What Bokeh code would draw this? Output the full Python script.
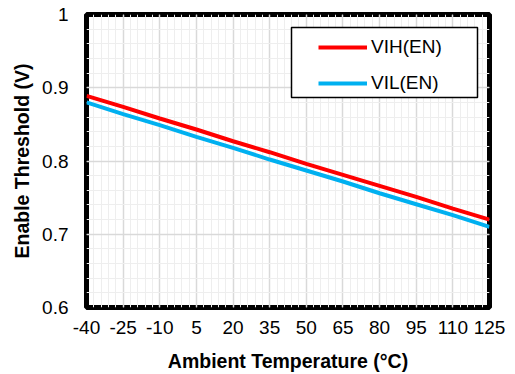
from bokeh.plotting import figure
from bokeh.models import FixedTicker, Legend, LegendItem, Range1d, BoxAnnotation
from bokeh.embed import file_html
from bokeh.resources import INLINE

temps = [-40, -25, -10, 5, 20, 35, 50, 65, 80, 95, 110, 125]
vih_en = [0.889, 0.874, 0.858, 0.843, 0.827, 0.812, 0.796, 0.781, 0.766, 0.751, 0.735, 0.720]
vil_en = [0.880, 0.864, 0.849, 0.833, 0.818, 0.802, 0.787, 0.772, 0.756, 0.741, 0.726, 0.710]
x_ticks = [-40, -25, -10, 5, 20, 35, 50, 65, 80, 95, 110, 125]
y_ticks = [0.6, 0.7, 0.8, 0.9, 1.0]
y_tick_labels = ["0.6", "0.7", "0.8", "0.9", "1"]
x_minor = [-40 + 3 * i for i in range(56)]
y_minor = [round(0.6 + 0.02 * i, 2) for i in range(21)]

FONT = "Liberation Sans"

p = figure(width=515, height=374, output_backend="svg", toolbar_location=None,
           x_range=Range1d(-40, 125), y_range=Range1d(0.6, 1.0),
           min_border_left=86, min_border_right=26, min_border_top=14, min_border_bottom=67)
p.background_fill_color = "white"
p.border_fill_color = "white"
p.outline_line_color = "black"
p.outline_line_width = 5

p.xaxis.ticker = FixedTicker(ticks=x_ticks, minor_ticks=x_minor)
p.yaxis.ticker = FixedTicker(ticks=y_ticks, minor_ticks=y_minor)
p.xaxis.major_label_overrides = {t: str(t) for t in x_ticks}
p.yaxis.major_label_overrides = dict(zip(y_ticks, y_tick_labels))

for ax in (p.xaxis[0], p.yaxis[0]):
    ax.axis_line_color = None
    ax.major_tick_line_color = None
    ax.minor_tick_line_color = None
    ax.major_tick_out = 0
    ax.major_tick_in = 0
    ax.minor_tick_out = 0
    ax.major_label_text_font = FONT
    ax.major_label_text_font_size = "19px"
    ax.major_label_text_color = "black"
    ax.axis_label_text_font = FONT
    ax.axis_label_text_font_size = "19.5px"
    ax.axis_label_text_font_style = "bold"
    ax.axis_label_text_color = "black"

p.xaxis.axis_label = "Ambient Temperature (°C)"
p.yaxis.axis_label = "Enable Threshold (V)"
p.xaxis.major_label_standoff = 13
p.yaxis.major_label_standoff = 18
p.xaxis.axis_label_standoff = 13
p.yaxis.axis_label_standoff = 6

for g in (p.xgrid[0], p.ygrid[0]):
    g.grid_line_color = "#D9D9D9"
    g.grid_line_width = 1.5
    g.minor_grid_line_color = "#EEEEEE"
    g.minor_grid_line_width = 1

r1 = p.line(temps, vih_en, line_color="#FF0000", line_width=4)
r2 = p.line(temps, vil_en, line_color="#00B0F0", line_width=4)

legend_frame = BoxAnnotation(left=291, right=477, top=27, bottom=97,
                             left_units="canvas", right_units="canvas",
                             top_units="canvas", bottom_units="canvas",
                             fill_color="white", fill_alpha=1.0,
                             line_color="black", line_alpha=1.0, line_width=1.5)
p.add_layout(legend_frame)

legend = Legend(items=[LegendItem(label="VIH(EN)", renderers=[r1]),
                       LegendItem(label="VIL(EN)", renderers=[r2])],
                location=(232, 213), margin=0, padding=8, spacing=14,
                glyph_width=49, label_standoff=4,
                border_line_color=None,
                background_fill_alpha=0.0,
                label_text_font=FONT, label_text_font_size="19px",
                label_text_color="black")
p.add_layout(legend, "center")

open("out.html", "w").write(file_html(p, INLINE))
